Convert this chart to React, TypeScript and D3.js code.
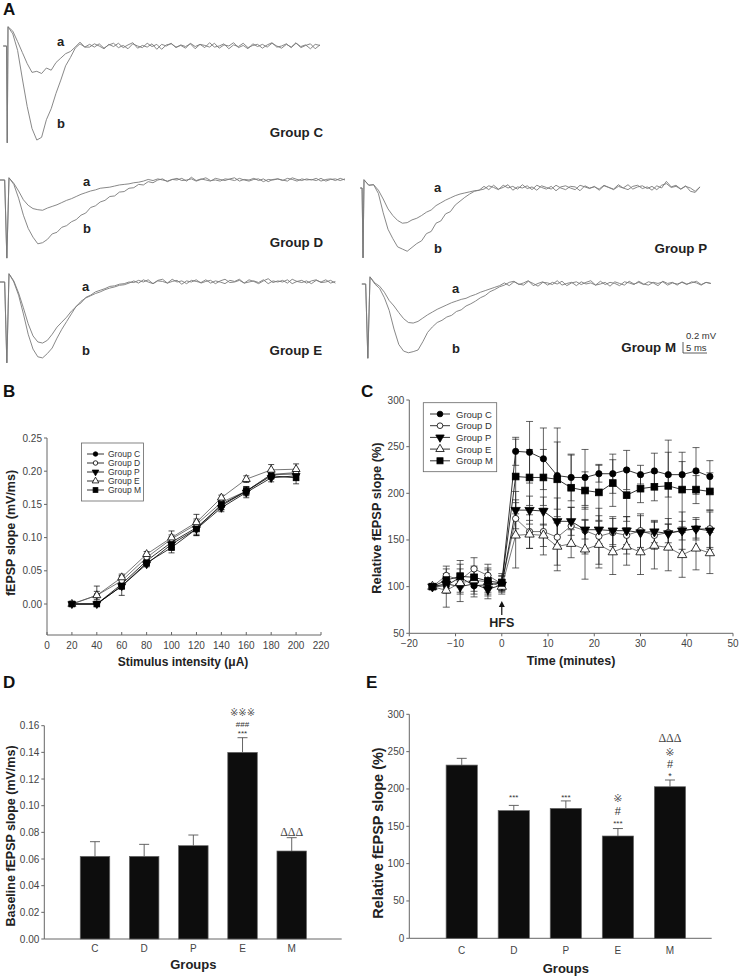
import React from 'react';
import * as d3 from 'd3';

// ---------- Panel A: fEPSP traces (mV sampled every 1 ms after stimulus) ----------
const traceCa = [0.27,0.08,-0.12,-0.32,-0.48,-0.46,-0.50,-0.40,-0.44,-0.30,-0.22,-0.14,-0.10,-0.02,0.07,-0.02,
  0.03,-0.02,0.04,-0.04,0.02,0.05,-0.03,0.01,-0.05,0.04,0.00,-0.03,0.05,-0.01,0.03,-0.06,0.02,0.04,-0.02,0.01,-0.04,0.05,-0.01,0.03,-0.03,0.06,-0.02,0.00,0.04,-0.05,0.02,-0.01,0.05,-0.03,0.01,0.03,-0.04,0.02,0.06,-0.02,0.00,0.04,-0.03,0.05,-0.01,0.02,-0.05,0.03,0.01];
const traceCb = [0.22,-0.08,-0.60,-1.10,-1.50,-1.71,-1.66,-1.34,-1.14,-0.86,-0.62,-0.36,-0.21,-0.04,0.04,-0.02,
  -0.02,0.04,0.00,-0.05,0.03,-0.01,0.05,-0.03,0.02,0.06,-0.04,0.01,-0.02,0.04,-0.06,0.03,0.00,0.05,-0.03,0.02,-0.01,0.04,-0.05,0.03,0.01,-0.02,0.05,-0.04,0.02,0.00,0.06,-0.03,0.01,-0.05,0.04,-0.01,0.03,-0.02,0.05,0.00,-0.04,0.03,-0.02,0.06,-0.03,0.01,0.04,-0.05,0.02];
const traceDa = [-0.06,-0.20,-0.36,-0.46,-0.52,-0.54,-0.55,-0.51,-0.48,-0.45,-0.41,-0.37,-0.34,-0.30,-0.26,-0.23,-0.20,-0.18,-0.15,-0.14,-0.13,-0.11,-0.09,-0.08,-0.07,-0.05,-0.04,-0.02,
  0.01,-0.01,0.02,0.00,-0.02,0.01,0.03,-0.01,0.00,0.02,-0.02,0.01,0.04,-0.01,0.00,-0.02,0.02,0.01,-0.01,0.03,0.00,-0.02,0.01,0.02,-0.03,0.01,0.00,0.02,-0.01,0.03,0.01,-0.02,0.02,0.00,0.01,-0.01,0.03,-0.02,0.01,0.02,-0.01,0.02];
const traceDb = [-0.08,-0.33,-0.64,-0.88,-1.04,-1.16,-1.14,-1.08,-0.98,-0.95,-0.86,-0.83,-0.76,-0.72,-0.64,-0.60,-0.50,-0.47,-0.40,-0.37,-0.30,-0.29,-0.22,-0.21,-0.15,-0.14,-0.08,-0.09,-0.03,-0.05,0.00,
  0.02,-0.03,0.01,0.00,0.03,-0.02,0.05,-0.01,0.02,0.00,-0.02,0.03,0.01,-0.01,0.02,0.04,-0.02,0.01,0.00,0.03,-0.01,0.02,-0.03,0.01,0.02,0.00,-0.02,0.04,0.01,-0.01,0.02,0.00,0.03,-0.02,0.01,0.02,-0.01,0.03,0.00];
const traceEa = [0.02,-0.20,-0.47,-0.76,-0.98,-1.09,-1.11,-1.06,-0.95,-0.82,-0.73,-0.64,-0.53,-0.45,-0.35,-0.29,-0.25,-0.21,-0.18,-0.14,-0.11,-0.09,-0.06,-0.05,-0.02,
  0.02,-0.02,0.04,0.00,-0.03,0.03,0.05,-0.02,0.01,0.03,-0.04,0.02,0.00,0.04,-0.02,0.01,0.03,-0.03,0.02,0.05,-0.01,0.00,0.03,-0.02,0.04,0.01,-0.03,0.02,0.06,-0.01,0.02,0.00,0.04,-0.03,0.01,0.03,-0.02,0.02,0.04,-0.01,0.00,0.03,-0.02];
const traceEb = [0.00,-0.24,-0.58,-0.95,-1.22,-1.36,-1.38,-1.30,-1.20,-1.02,-0.86,-0.72,-0.58,-0.44,-0.38,-0.28,-0.24,-0.18,-0.15,-0.12,-0.08,-0.07,-0.04,-0.03,0.00,
  -0.01,0.03,0.00,0.04,-0.03,0.02,0.01,-0.02,0.05,0.00,0.02,-0.03,0.03,0.01,-0.01,0.04,-0.02,0.02,0.00,-0.03,0.03,0.01,0.05,-0.02,0.00,0.02,-0.01,0.04,-0.03,0.02,0.00,0.03,-0.02,0.05,0.01,-0.01,0.02,-0.03,0.03,0.00,0.04,-0.02,0.01];
const tracePa = [0.05,0.06,-0.04,-0.20,-0.38,-0.50,-0.59,-0.64,-0.63,-0.58,-0.55,-0.50,-0.44,-0.40,-0.32,-0.27,-0.22,-0.18,-0.14,-0.11,-0.09,-0.07,-0.05,-0.04,
  0.03,-0.03,0.05,-0.02,0.01,0.06,-0.04,0.02,0.00,0.04,-0.03,0.05,0.01,-0.02,0.03,-0.05,0.02,0.04,0.00,-0.03,0.05,0.02,-0.01,0.03,-0.04,0.04,0.01,-0.02,0.06,0.00,-0.03,0.03,0.05,-0.01,0.02,-0.04,0.04,0.00,0.12,0.02,0.05,-0.02,0.03,0.00,-0.06,0.02];
const tracePb = [0.05,0.06,-0.10,-0.45,-0.75,-0.92,-1.07,-1.11,-1.15,-1.08,-1.01,-0.96,-0.83,-0.79,-0.64,-0.60,-0.47,-0.43,-0.31,-0.24,-0.17,-0.11,-0.06,-0.04,
  -0.02,0.04,0.01,-0.03,0.05,0.00,0.03,-0.02,0.06,-0.01,0.02,-0.04,0.04,0.01,-0.02,0.05,0.00,-0.03,0.03,0.02,-0.05,0.04,0.00,0.02,-0.02,0.05,0.01,-0.03,0.03,0.00,0.06,-0.02,0.02,0.04,-0.01,0.03,-0.03,0.05,0.08,0.01,0.03,-0.02,0.04,-0.06,-0.08,0.02];
const traceMa = [0.02,-0.04,-0.15,-0.30,-0.40,-0.52,-0.63,-0.70,-0.71,-0.68,-0.62,-0.56,-0.51,-0.46,-0.42,-0.38,-0.34,-0.31,-0.28,-0.26,-0.22,-0.19,-0.15,-0.12,-0.09,-0.06,-0.03,
  0.02,-0.03,0.04,0.00,-0.02,0.05,0.01,-0.04,0.03,0.02,-0.01,0.06,-0.02,0.01,0.03,-0.03,0.04,0.00,0.02,-0.02,0.05,-0.01,0.03,0.01,-0.03,0.04,0.02,-0.01,0.05,0.00,-0.02,0.03,0.01,0.04,-0.02,0.02,0.00,0.03,-0.01,0.04,0.02,-0.02,0.03,0.01];
const traceMb = [0.00,-0.08,-0.25,-0.48,-0.82,-1.10,-1.22,-1.25,-1.23,-1.20,-1.05,-0.88,-0.78,-0.70,-0.66,-0.60,-0.57,-0.50,-0.47,-0.40,-0.36,-0.31,-0.25,-0.21,-0.14,-0.10,-0.05,
  -0.02,0.03,0.05,-0.01,0.02,0.06,-0.03,0.01,0.04,-0.02,0.03,0.00,0.05,-0.03,0.02,0.04,-0.01,0.03,0.06,-0.02,0.00,0.03,-0.04,0.04,0.01,-0.02,0.05,0.00,0.03,-0.01,0.04,0.02,-0.03,0.05,0.01,0.03,-0.02,0.04,0.00,0.02,0.05,-0.01,0.03,0.01];
// stimulus artifact per group: [pre-trace ms, artifact width ms, artifact low mV, artifact peak mV]
const artifactC = [1, 0.3, -1.76, 0.35];
const artifactD = [1.9, 0.9, -1.42, 0.04];
const artifactE = [1.9, 0.9, -1.47, 0.15];
const artifactP = [0.8, 0.4, -1.27, 0.15];
const artifactM = [1.7, 0.9, -1.35, 0.13];
const scaleBarMv = 0.2;
const scaleBarMs = 5;

// ---------- Panel B: input-output ----------
const intensity = [20, 40, 60, 80, 100, 120, 140, 160, 180, 200];
const ioC = [0, 0, 0.030, 0.065, 0.093, 0.115, 0.148, 0.170, 0.195, 0.196];
const ioD = [0, 0.013, 0.035, 0.070, 0.098, 0.120, 0.153, 0.170, 0.195, 0.198];
const ioP = [0, 0, 0.027, 0.060, 0.090, 0.113, 0.145, 0.168, 0.190, 0.193];
const ioE = [0, 0.013, 0.040, 0.075, 0.100, 0.123, 0.160, 0.188, 0.202, 0.203];
const ioM = [0, 0, 0.027, 0.062, 0.085, 0.113, 0.150, 0.170, 0.193, 0.190];
const ioCe = [0, 0, 0.006, 0.004, 0.008, 0.010, 0.006, 0.006, 0.005, 0.006];
const ioDe = [0, 0.006, 0.008, 0.005, 0.006, 0.008, 0.006, 0.005, 0.005, 0.005];
const ioPe = [0, 0, 0.005, 0.004, 0.008, 0.010, 0.006, 0.008, 0.006, 0.006];
const ioEe = [0, 0.014, 0.005, 0.004, 0.010, 0.012, 0.004, 0.005, 0.008, 0.008];
const ioMe = [0, 0, 0.014, 0.005, 0.008, 0.010, 0.008, 0.007, 0.005, 0.009];
const ioXTicks = [0, 20, 40, 60, 80, 100, 120, 140, 160, 180, 200, 220];
const ioYTicks = [0, 0.05, 0.10, 0.15, 0.20, 0.25];

// ---------- Panel C: LTP time course ----------
const ltpTime = [-15, -12, -9, -6, -3, 0, 3, 6, 9, 12, 15, 18, 21, 24, 27, 30, 33, 36, 39, 42, 45];
const ltpC = [100, 101, 110, 101, 102, 104, 245, 244, 237, 219, 217, 217, 221, 221, 225, 220, 224, 220, 220, 224, 218];
const ltpD = [100, 112, 107, 119, 112, 103, 173, 159, 159, 153, 165, 160, 154, 158, 155, 160, 155, 158, 160, 162, 162];
const ltpP = [100, 103, 100, 103, 97, 102, 182, 182, 181, 170, 170, 161, 161, 160, 160, 158, 159, 157, 160, 162, 160];
const ltpE = [100, 96, 104, 107, 105, 100, 155, 156, 155, 143, 146, 140, 145, 137, 143, 137, 144, 142, 134, 141, 136];
const ltpM = [100, 107, 111, 110, 106, 104, 218, 217, 217, 215, 206, 203, 201, 211, 198, 205, 207, 208, 204, 204, 202];
const ltpCe = [0, 8, 18, 12, 10, 10, 15, 33, 33, 51, 25, 30, 9, 21, 21, 10, 19, 24, 14, 25, 17];
const ltpDe = [0, 10, 8, 12, 12, 8, 20, 18, 25, 30, 20, 25, 30, 15, 20, 18, 15, 15, 20, 12, 20];
const ltpPe = [0, 5, 6, 8, 10, 6, 20, 15, 15, 25, 15, 10, 15, 15, 15, 18, 12, 10, 10, 10, 20];
const ltpEe = [0, 18, 20, 15, 15, 8, 35, 15, 12, 26, 15, 32, 25, 24, 20, 24, 25, 25, 24, 23, 22];
const ltpMe = [0, 12, 8, 10, 12, 8, 40, 30, 30, 40, 35, 20, 30, 25, 28, 15, 15, 49, 40, 15, 20];
const ltpXTicks = [-20, -10, 0, 10, 20, 30, 40, 50];
const ltpYTicks = [50, 100, 150, 200, 250, 300];

// ---------- Panels D & E: bars ----------
const groups = ['C', 'D', 'P', 'E', 'M'];
const baselineMean = [0.062, 0.062, 0.070, 0.140, 0.066];
const baselineErr = [0.011, 0.009, 0.008, 0.011, 0.010];
const baselineYTicks = [0, 0.02, 0.04, 0.06, 0.08, 0.10, 0.12, 0.14, 0.16];
const potentMean = [232, 171, 174, 137, 203];
const potentErr = [9, 7, 10, 10, 9];
const potentYTicks = [0, 50, 100, 150, 200, 250, 300];

const SANS = '"Liberation Sans", Arial, Helvetica, sans-serif';
const AXIS = '#666';
const TICKTXT = '#444';
const TRACE = '#7a7a7a';
const MS_PX = 4.8;
const MV_PX = 55;

type Sym = 'fcircle' | 'ocircle' | 'ftri' | 'otri' | 'fsquare';
const seriesSyms: Sym[] = ['fcircle', 'ocircle', 'ftri', 'otri', 'fsquare'];
const seriesNames = ['Group C', 'Group D', 'Group P', 'Group E', 'Group M'];

function Marker({ x, y, sym, s = 1 }: { x: number; y: number; sym: Sym; s?: number }) {
  const filled = sym.startsWith('f');
  const fill = filled ? '#000' : '#fff';
  const common = { fill, stroke: '#000', strokeWidth: 0.8 };
  if (sym === 'fcircle' || sym === 'ocircle') return <circle cx={x} cy={y} r={3 * s} {...common} />;
  if (sym === 'fsquare') return <rect x={x - 3.2 * s} y={y - 3.2 * s} width={6.4 * s} height={6.4 * s} {...common} />;
  const path = d3.symbol(d3.symbolTriangle, 34 * s * s)() as string;
  const rot = sym === 'ftri' ? 180 : 0;
  return <path d={path} transform={`translate(${x},${y}) rotate(${rot})`} {...common} />;
}

function Trace({ vals, art, ox, oy }: { vals: number[]; art: number[]; ox: number; oy: number }) {
  const x = d3.scaleLinear([0, 1], [ox, ox + MS_PX]);
  const y = d3.scaleLinear([0, 1], [oy, oy - MV_PX]);
  const [pre, w, low, peak] = art;
  const pts: [number, number][] = [[-pre, 0], [-w, 0], [-w / 2, low], [0, peak], ...vals.map((v, i) => [i + 1, v] as [number, number])];
  const d = d3.line<[number, number]>().x(p => x(p[0])).y(p => y(p[1]))(pts) as string;
  return <path d={d} fill="none" stroke={TRACE} strokeWidth={0.9} />;
}

function TraceGroup({ a, b, art, ox, oy, name, labX, aY, bY, nameX, nameY }: any) {
  return (
    <g>
      <Trace vals={a} art={art} ox={ox} oy={oy} />
      <Trace vals={b} art={art} ox={ox} oy={oy} />
      <text x={labX} y={aY} fontFamily={SANS} fontWeight="bold" fontSize={13} fill="#222">a</text>
      <text x={labX} y={bY} fontFamily={SANS} fontWeight="bold" fontSize={13} fill="#222">b</text>
      <text x={nameX} y={nameY} fontFamily={SANS} fontWeight="bold" fontSize={13.3} fill="#222" textAnchor="end">{name}</text>
    </g>
  );
}

function PanelB() {
  const x = d3.scaleLinear([0, 220], [47, 321]);
  const y = d3.scaleLinear([0, 0.25], [604, 438]);
  const axisY = 635;
  const series = [ioC, ioD, ioP, ioE, ioM];
  const errs = [ioCe, ioDe, ioPe, ioEe, ioMe];
  const line = d3.line<number>().x((_, i) => x(intensity[i])).y(v => y(v));
  return (
    <g>
      <line x1={x(0)} x2={x(0)} y1={axisY} y2={y(0.25)} stroke={AXIS} />
      <line x1={x(0)} x2={x(220)} y1={axisY} y2={axisY} stroke={AXIS} />
      {ioYTicks.map(t => (
        <g key={t}>
          <line x1={x(0) - 3} x2={x(0)} y1={y(t)} y2={y(t)} stroke={AXIS} />
          <text x={x(0) - 5} y={y(t) + 3.5} fontFamily={SANS} fontSize={10} fill={TICKTXT} textAnchor="end">{d3.format('.2f')(t)}</text>
        </g>
      ))}
      {ioXTicks.map(t => (
        <g key={t}>
          <line x1={x(t)} x2={x(t)} y1={axisY} y2={axisY - 3} stroke={AXIS} />
          <text x={x(t)} y={axisY + 14} fontFamily={SANS} fontSize={10} fill={TICKTXT} textAnchor="middle">{t}</text>
        </g>
      ))}
      {series.map((s, k) => <path key={k} d={line(s) as string} fill="none" stroke={k === 1 || k === 3 ? '#555' : '#000'} strokeWidth={0.8} />)}
      {series.map((s, k) => s.map((v, i) => errs[k][i] > 0 ? (
        <g key={`e${k}-${i}`} stroke="#000" strokeWidth={0.7}>
          <line x1={x(intensity[i])} x2={x(intensity[i])} y1={y(v - errs[k][i])} y2={y(v + errs[k][i])} />
          <line x1={x(intensity[i]) - 3} x2={x(intensity[i]) + 3} y1={y(v + errs[k][i])} y2={y(v + errs[k][i])} />
          <line x1={x(intensity[i]) - 3} x2={x(intensity[i]) + 3} y1={y(v - errs[k][i])} y2={y(v - errs[k][i])} />
        </g>) : null))}
      {series.map((s, k) => s.map((v, i) => <Marker key={`m${k}-${i}`} x={x(intensity[i])} y={y(v)} sym={seriesSyms[k]} s={0.9} />))}
      <rect x={81.5} y={443} width={62} height={58} fill="#fff" stroke={AXIS} strokeWidth={0.8} />
      {seriesNames.map((n, k) => (
        <g key={n}>
          <line x1={87} x2={104} y1={454 + k * 9} y2={454 + k * 9} stroke="#000" strokeWidth={0.8} />
          <Marker x={95.5} y={454 + k * 9} sym={seriesSyms[k]} s={0.75} />
          <text x={108} y={454 + k * 9 + 3} fontFamily={SANS} fontSize={8.5} fill="#333">{n}</text>
        </g>
      ))}
      <text transform={`translate(15,533) rotate(-90)`} fontFamily={SANS} fontWeight="bold" fontSize={12.5} fill="#222" textAnchor="middle">fEPSP slope (mV/ms)</text>
      <text x={183} y={666} fontFamily={SANS} fontWeight="bold" fontSize={12} fill="#222" textAnchor="middle">Stimulus intensity (μA)</text>
      <text x={3} y={397} fontFamily={SANS} fontWeight="bold" fontSize={17} fill="#111">B</text>
    </g>
  );
}

function PanelC() {
  const x = d3.scaleLinear([-20, 50], [409.3, 733]);
  const y = d3.scaleLinear([50, 300], [633.3, 400]);
  const series = [ltpC, ltpD, ltpP, ltpE, ltpM];
  const errs = [ltpCe, ltpDe, ltpPe, ltpEe, ltpMe];
  const line = d3.line<number>().x((_, i) => x(ltpTime[i])).y(v => y(v));
  return (
    <g>
      <line x1={x(-20)} x2={x(-20)} y1={y(50)} y2={y(300)} stroke={AXIS} />
      <line x1={x(-20)} x2={x(50)} y1={y(50)} y2={y(50)} stroke={AXIS} />
      {ltpYTicks.map(t => (
        <g key={t}>
          <line x1={x(-20) - 3} x2={x(-20)} y1={y(t)} y2={y(t)} stroke={AXIS} />
          <text x={x(-20) - 5} y={y(t) + 3.5} fontFamily={SANS} fontSize={10} fill={TICKTXT} textAnchor="end">{t}</text>
        </g>
      ))}
      {ltpXTicks.map(t => (
        <g key={t}>
          <line x1={x(t)} x2={x(t)} y1={y(50)} y2={y(50) + 3} stroke={AXIS} />
          <text x={x(t)} y={y(50) + 14} fontFamily={SANS} fontSize={10} fill={TICKTXT} textAnchor="middle">{t < 0 ? `\u2212${-t}` : t}</text>
        </g>
      ))}
      {series.map((s, k) => <path key={k} d={line(s) as string} fill="none" stroke={k === 1 || k === 3 ? '#555' : '#000'} strokeWidth={0.8} />)}
      {series.map((s, k) => s.map((v, i) => errs[k][i] > 0 ? (
        <g key={`e${k}-${i}`} stroke="#222" strokeWidth={0.7}>
          <line x1={x(ltpTime[i])} x2={x(ltpTime[i])} y1={y(v - errs[k][i])} y2={y(v + errs[k][i])} />
          <line x1={x(ltpTime[i]) - 3.5} x2={x(ltpTime[i]) + 3.5} y1={y(v + errs[k][i])} y2={y(v + errs[k][i])} />
          <line x1={x(ltpTime[i]) - 3.5} x2={x(ltpTime[i]) + 3.5} y1={y(v - errs[k][i])} y2={y(v - errs[k][i])} />
        </g>) : null))}
      {series.map((s, k) => s.map((v, i) => <Marker key={`m${k}-${i}`} x={x(ltpTime[i])} y={y(v)} sym={seriesSyms[k]} s={1.05} />))}
      <rect x={423.3} y={402.7} width={73.4} height={69} fill="#fff" stroke={AXIS} strokeWidth={0.8} />
      {seriesNames.map((n, k) => (
        <g key={n}>
          <line x1={430} x2={450} y1={414 + k * 11.7} y2={414 + k * 11.7} stroke="#000" strokeWidth={0.8} />
          <Marker x={440} y={414 + k * 11.7} sym={seriesSyms[k]} s={0.95} />
          <text x={456} y={414 + k * 11.7 + 3.5} fontFamily={SANS} fontSize={9.5} fill="#333">{n}</text>
        </g>
      ))}
      <line x1={x(0)} x2={x(0)} y1={615} y2={604} stroke="#111" strokeWidth={1.2} />
      <path d={`M${x(0)},601 L${x(0) - 3},607 L${x(0) + 3},607 Z`} fill="#111" />
      <text x={x(0)} y={627} fontFamily={SANS} fontWeight="bold" fontSize={12.5} fill="#222" textAnchor="middle">HFS</text>
      <text transform={`translate(381,518) rotate(-90)`} fontFamily={SANS} fontWeight="bold" fontSize={12.8} fill="#222" textAnchor="middle">Relative fEPSP slope (%)</text>
      <text x={571} y={665} fontFamily={SANS} fontWeight="bold" fontSize={12.5} fill="#222" textAnchor="middle">Time (minutes)</text>
      <text x={361} y={397} fontFamily={SANS} fontWeight="bold" fontSize={17} fill="#111">C</text>
    </g>
  );
}

function BarPanel({ mean, err, ticks, fmt, y0, y1, top, bottom, left, right, bandL, bandR, barFrac, marks, ylabel, ylx, yly, ylfs, catY, groupsY, letter, letterX }: any) {
  const y = d3.scaleLinear([y0, y1], [bottom, top]);
  const x = d3.scaleBand<string>(groups, [bandL, bandR]);
  const bw = x.step() * barFrac;
  return (
    <g>
      <line x1={left} x2={left} y1={bottom} y2={top} stroke={AXIS} />
      <line x1={left} x2={right} y1={bottom} y2={bottom} stroke={AXIS} />
      {ticks.map((t: number) => (
        <g key={t}>
          <line x1={left - 3} x2={left} y1={y(t)} y2={y(t)} stroke={AXIS} />
          <text x={left - 5} y={y(t) + 3.5} fontFamily={SANS} fontSize={10} fill={TICKTXT} textAnchor="end">{fmt(t)}</text>
        </g>
      ))}
      {groups.map((g, i) => {
        const cx = (x(g) as number) + x.step() / 2;
        return (
          <g key={g}>
            <line x1={cx} x2={cx} y1={y(mean[i])} y2={y(mean[i] + err[i])} stroke="#555" strokeWidth={0.9} />
            <line x1={cx - 5} x2={cx + 5} y1={y(mean[i] + err[i])} y2={y(mean[i] + err[i])} stroke="#555" strokeWidth={0.9} />
            <rect x={cx - bw / 2} y={y(mean[i])} width={bw} height={y(y0) - y(mean[i])} fill="#0d0d0d" stroke="#666" strokeWidth={0.7} />
            <text x={cx} y={catY} fontFamily={SANS} fontSize={10} fill={TICKTXT} textAnchor="middle">{g}</text>
            {(marks[i] || []).map((m: any, j: number) => (
              <text key={j} x={cx} y={m.y} fontFamily={m.font} fontSize={m.fs} fill={m.fill || '#333'} textAnchor="middle">{m.t}</text>
            ))}
          </g>
        );
      })}
      <text transform={`translate(${ylx},${yly}) rotate(-90)`} fontFamily={SANS} fontWeight="bold" fontSize={ylfs} fill="#222" textAnchor="middle">{ylabel}</text>
      <text x={(bandL + bandR) / 2} y={groupsY} fontFamily={SANS} fontWeight="bold" fontSize={13} fill="#222" textAnchor="middle">Groups</text>
      <text x={letterX} y={688} fontFamily={SANS} fontWeight="bold" fontSize={17} fill="#111">{letter}</text>
    </g>
  );
}

const REF = '"DejaVu Sans", "Noto Sans CJK SC", sans-serif';
const SERIF = '"Liberation Serif", "DejaVu Serif", serif';

export default function App() {
  const dMarks = [null, null, null,
    [{ t: '※※※', y: 716, fs: 10, font: REF, fill: '#555' }, { t: '###', y: 727, fs: 8, font: SANS }, { t: '***', y: 736, fs: 8, font: SANS }],
    [{ t: 'ΔΔΔ', y: 836, fs: 12, font: SERIF, fill: '#444' }]];
  const eMarks = [null,
    [{ t: '***', y: 800, fs: 8, font: SANS }],
    [{ t: '***', y: 800, fs: 8, font: SANS }],
    [{ t: '※', y: 802, fs: 11, font: REF, fill: '#555' }, { t: '#', y: 815, fs: 11, font: SANS }, { t: '***', y: 826, fs: 8, font: SANS }],
    [{ t: 'ΔΔΔ', y: 742, fs: 12, font: SERIF, fill: '#444' }, { t: '※', y: 756, fs: 11, font: REF, fill: '#555' }, { t: '#', y: 768, fs: 11, font: SANS }, { t: '*', y: 779, fs: 9, font: SANS }]];
  const sbX = d3.scaleLinear([0, 1], [683, 683 + MS_PX]);
  const sbY = d3.scaleLinear([0, 1], [353, 353 - MV_PX]);
  return (
    <svg width={740} height={976} style={{ position: 'absolute', left: 0, top: 0, background: '#fff' }} xmlns="http://www.w3.org/2000/svg">
      <rect width={740} height={976} fill="#fff" />
      <text x={3} y={15} fontFamily={SANS} fontWeight="bold" fontSize={17} fill="#111">A</text>
      <TraceGroup a={traceCa} b={traceCb} art={artifactC} ox={8} oy={46} name="Group C" labX={57} aY={46} bY={128} nameX={323} nameY={137} />
      <TraceGroup a={traceDa} b={traceDb} art={artifactD} ox={9} oy={180} name="Group D" labX={83} aY={186} bY={233} nameX={323} nameY={247} />
      <TraceGroup a={traceEa} b={traceEb} art={artifactE} ox={9} oy={282} name="Group E" labX={82} aY={291} bY={355} nameX={322} nameY={355} />
      <TraceGroup a={tracePa} b={tracePb} art={artifactP} ox={364} oy={188} name="Group P" labX={434} aY={192} bY={253} nameX={707} nameY={253} />
      <TraceGroup a={traceMa} b={traceMb} art={artifactM} ox={370} oy={284} name="Group M" labX={452} aY={293} bY={353} nameX={676} nameY={352} />
      <g>
        <line x1={sbX(0)} x2={sbX(0)} y1={sbY(scaleBarMv)} y2={sbY(0)} stroke="#333" strokeWidth={0.8} />
        <line x1={sbX(0)} x2={sbX(scaleBarMs)} y1={sbY(0)} y2={sbY(0)} stroke="#333" strokeWidth={0.8} />
        <text x={686} y={339} fontFamily={SANS} fontSize={9.5} fill="#333">{`${scaleBarMv} mV`}</text>
        <text x={686} y={351} fontFamily={SANS} fontSize={9.5} fill="#333">{`${scaleBarMs} ms`}</text>
      </g>
      <PanelB />
      <PanelC />
      <BarPanel mean={baselineMean} err={baselineErr} ticks={baselineYTicks} fmt={d3.format('.2f')} y0={0} y1={0.16}
        top={725.7} bottom={939} left={44.3} right={341.7} bandL={70.4} bandR={316.3} barFrac={0.6} marks={dMarks}
        ylabel="Baseline fEPSP slope (mV/ms)" ylx={15} yly={836} ylfs={12.5} catY={952} groupsY={969} letter="D" letterX={3} />
      <BarPanel mean={potentMean} err={potentErr} ticks={potentYTicks} fmt={(t: number) => `${t}`} y0={0} y1={300}
        top={714.3} bottom={938.3} left={409.3} right={711.7} bandL={435.7} bandR={696} barFrac={0.6} marks={eMarks}
        ylabel="Relative fEPSP slope (%)" ylx={383} yly={833} ylfs={14.5} catY={954} groupsY={973} letter="E" letterX={366} />
    </svg>
  );
}
